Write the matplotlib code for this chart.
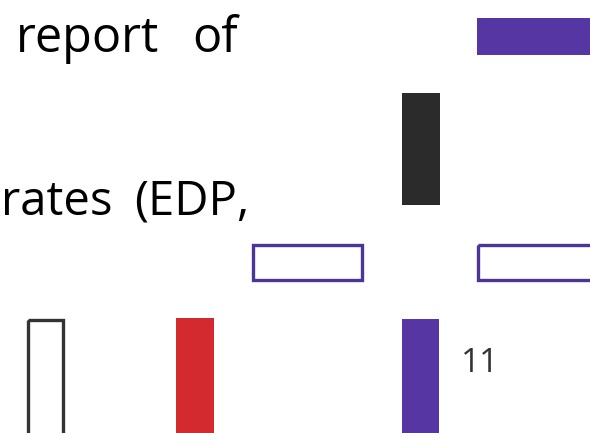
import matplotlib
matplotlib.use("Agg")
import matplotlib.pyplot as plt
from matplotlib.patches import Rectangle

# Canvas in pixels (y grows downward)
W, H = 590, 433

# Shape data: left, top, width, height (pixels), fill, edge
shape_names = ["purple_top", "black_bar", "outline_left", "outline_right",
               "purple_bottom", "outline_black", "red_bar"]
shape_left = [477, 402, 253, 478, 402, 28, 176]
shape_top = [18, 93, 245, 245, 319, 320, 318]
shape_width = [125, 38, 109, 120, 37, 35, 38]
shape_height = [37, 112, 35, 35, 120, 120, 120]
shape_fill = ["#5636a3", "#2b2b2b", "none", "none", "#5636a3", "none", "#d22a2e"]
shape_edge = ["none", "none", "#4b3597", "#4b3597", "none", "#333333", "none"]

# Text fragments (x anchor, baseline y)
text_strings = ["report", "of", "rates", "(EDP,", "11"]
text_x = [16, 192, 1, 134, 461]
text_y = [52, 52, 215, 215, 372]
text_ha = ["left", "left", "left", "left", "left"]
text_size = [35, 35, 34, 34, 24]
text_color = ["#000000", "#000000", "#000000", "#000000", "#333333"]

fig = plt.figure(figsize=(W / 100, H / 100), dpi=100)
ax = fig.add_axes([0, 0, 1, 1])
ax.set_xlim(0, W)
ax.set_ylim(H, 0)
ax.axis("off")

for i in range(len(shape_names)):
    filled = shape_fill[i] != "none"
    rect = Rectangle((shape_left[i], shape_top[i]), shape_width[i], shape_height[i],
                     facecolor=shape_fill[i] if filled else "none",
                     edgecolor=shape_edge[i] if not filled else "none",
                     linewidth=0 if filled else 2.4)
    ax.add_patch(rect)

for s, x, y, ha, fs, c in zip(text_strings, text_x, text_y, text_ha, text_size, text_color):
    ax.text(x, y, s, fontsize=fs, color=c, family="Open Sans",
            ha=ha, va="baseline")

fig.savefig("out.png", dpi=100)
plt.close(fig)
